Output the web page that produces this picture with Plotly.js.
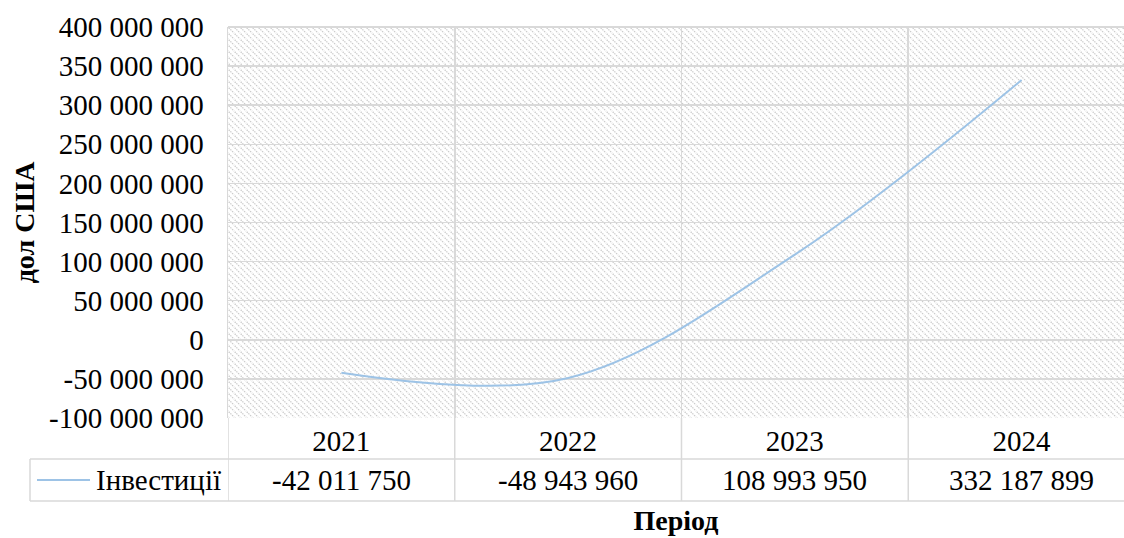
<!DOCTYPE html>
<html>
<head>
<meta charset="utf-8">
<script src="https://cdn.plot.ly/plotly-3.0.1.min.js"></script>
<style>html,body{margin:0;padding:0;background:#fff;}#chart{width:1124px;height:538px;}</style>
</head>
<body>
<div id="chart"></div>
<script>
// ---- data ----
const categories = ['2021', '2022', '2023', '2024'];
const seriesName = 'Інвестиції';
const values = [-42011750, -48943960, 108993950, 332187899];
const yTickVals = [-100000000, -50000000, 0, 50000000, 100000000, 150000000, 200000000, 250000000, 300000000, 350000000, 400000000];
const yTickText = ['-100 000 000', '-50 000 000', '0', '50 000 000', '100 000 000', '150 000 000', '200 000 000', '250 000 000', '300 000 000', '350 000 000', '400 000 000'];
const xTitle = 'Період';
const yTitle = 'дол США';

// ---- helpers ----
function fmt(v) {
  const s = Math.abs(Math.round(v)).toString().replace(/\B(?=(\d{3})+(?!\d))/g, ' ');
  return (v < 0 ? '-' : '') + s;
}

const W = 1124, H = 538;
const L = 228, T = 27, B = 120;
const plotW = W - L, plotH = H - T - B;
const FONT = 'Liberation Serif';
const FS = 29;
const GRID = '#d9d9d9';
const LINE = '#9dc3e6';

const svg = '<svg xmlns="http://www.w3.org/2000/svg" width="' + plotW + '" height="' + plotH + '">' +
  '<defs><pattern id="p" patternUnits="userSpaceOnUse" width="6" height="6">' +
  '<rect width="6" height="6" fill="#ffffff"/>' +
  '<path d="M-1,-1 L7,7 M-1,5 L1,7 M5,-1 L7,1" stroke="#cbcbcb" stroke-width="1.3" stroke-dasharray="1.4,1"/>' +
  '</pattern></defs><rect width="100%" height="100%" fill="url(#p)"/></svg>';
const hatch = 'data:image/svg+xml;charset=utf-8,' + encodeURIComponent(svg);

const row1Bottom = 459, row2Bottom = 501, plotBottom = T + plotH;
const toPaperY = py => (plotBottom - py) / plotH;
const toPaperX = px => (px - L) / plotW;
const rightPaper = 1.1;

const shapes = [];
for (let i = 0; i <= categories.length; i++) {
  shapes.push({type: 'line', xref: 'x', yref: 'paper', x0: i - 0.5, x1: i - 0.5,
    y0: 0, y1: toPaperY(row2Bottom), line: {color: GRID, width: 1.5}});
}
shapes.push({type: 'line', xref: 'paper', yref: 'paper', x0: toPaperX(30), x1: rightPaper,
  y0: toPaperY(row1Bottom), y1: toPaperY(row1Bottom), line: {color: GRID, width: 1.5}});
shapes.push({type: 'line', xref: 'paper', yref: 'paper', x0: toPaperX(30), x1: rightPaper,
  y0: toPaperY(row2Bottom), y1: toPaperY(row2Bottom), line: {color: GRID, width: 1.5}});
shapes.push({type: 'line', xref: 'paper', yref: 'paper', x0: toPaperX(30), x1: toPaperX(30),
  y0: toPaperY(row1Bottom), y1: toPaperY(row2Bottom), line: {color: GRID, width: 1.5}});
shapes.push({type: 'line', xref: 'paper', yref: 'paper', x0: 0, x1: rightPaper,
  y0: 1, y1: 1, line: {color: GRID, width: 2}});
const rowMid = toPaperY((row1Bottom + row2Bottom) / 2);
shapes.push({type: 'line', xref: 'paper', yref: 'paper', x0: toPaperX(37), x1: toPaperX(90),
  y0: rowMid, y1: rowMid, line: {color: LINE, width: 2}});

const annotations = values.map((v, i) => ({
  xref: 'x', yref: 'paper', x: i, y: rowMid, text: fmt(v),
  showarrow: false, xanchor: 'center', yanchor: 'middle',
  font: {family: FONT, size: FS, color: '#000'}
}));
annotations.push({
  xref: 'paper', yref: 'paper', x: toPaperX(94), y: rowMid, text: seriesName,
  showarrow: false, xanchor: 'left', yanchor: 'middle',
  font: {family: FONT, size: FS, color: '#000'}
});

const trace = {
  x: categories, y: values, name: seriesName, type: 'scatter', mode: 'lines',
  line: {color: LINE, width: 2, shape: 'spline', smoothing: 1},
  showlegend: false, cliponaxis: false
};

const layout = {
  width: W, height: H,
  margin: {l: L, r: 0, t: T, b: B, pad: 0},
  paper_bgcolor: '#ffffff',
  plot_bgcolor: 'rgba(0,0,0,0)',
  font: {family: FONT, size: FS, color: '#000'},
  showlegend: false,
  images: [{source: hatch, xref: 'paper', yref: 'paper', x: 0, y: 1, sizex: 1, sizey: 1,
    xanchor: 'left', yanchor: 'top', sizing: 'stretch', layer: 'below'}],
  xaxis: {
    type: 'category', range: [-0.5, 3.5 - 11 / 227],
    tickson: 'boundaries', ticks: '', showgrid: true, gridcolor: GRID, gridwidth: 1.5,
    showline: false, zeroline: false, ticklabelstandoff: 3,
    tickfont: {family: FONT, size: FS, color: '#000'},
    title: {text: xTitle, font: {family: FONT, size: 28, color: '#000', weight: 'bold'}, standoff: 54},
    automargin: false, fixedrange: true
  },
  yaxis: {
    range: [-100000000, 400000000], tickvals: yTickVals, ticktext: yTickText,
    ticks: '', showgrid: true, gridcolor: GRID, gridwidth: 1.5, zeroline: false,
    showline: true, linecolor: GRID, linewidth: 1.5, ticklabelstandoff: 17,
    tickfont: {family: FONT, size: FS, color: '#000'},
    title: {text: yTitle, font: {family: FONT, size: 28, color: '#000', weight: 'bold'}, standoff: 6},
    automargin: false, fixedrange: true
  },
  shapes: shapes,
  annotations: annotations
};

function draw() {
  Plotly.newPlot('chart', [trace], layout, {displayModeBar: false, staticPlot: true});
}
if (document.fonts && document.fonts.load) {
  Promise.all([
    document.fonts.load('29px "Liberation Serif"'),
    document.fonts.load('bold 28px "Liberation Serif"')
  ]).then(draw, draw);
} else {
  draw();
}
</script>
</body>
</html>
